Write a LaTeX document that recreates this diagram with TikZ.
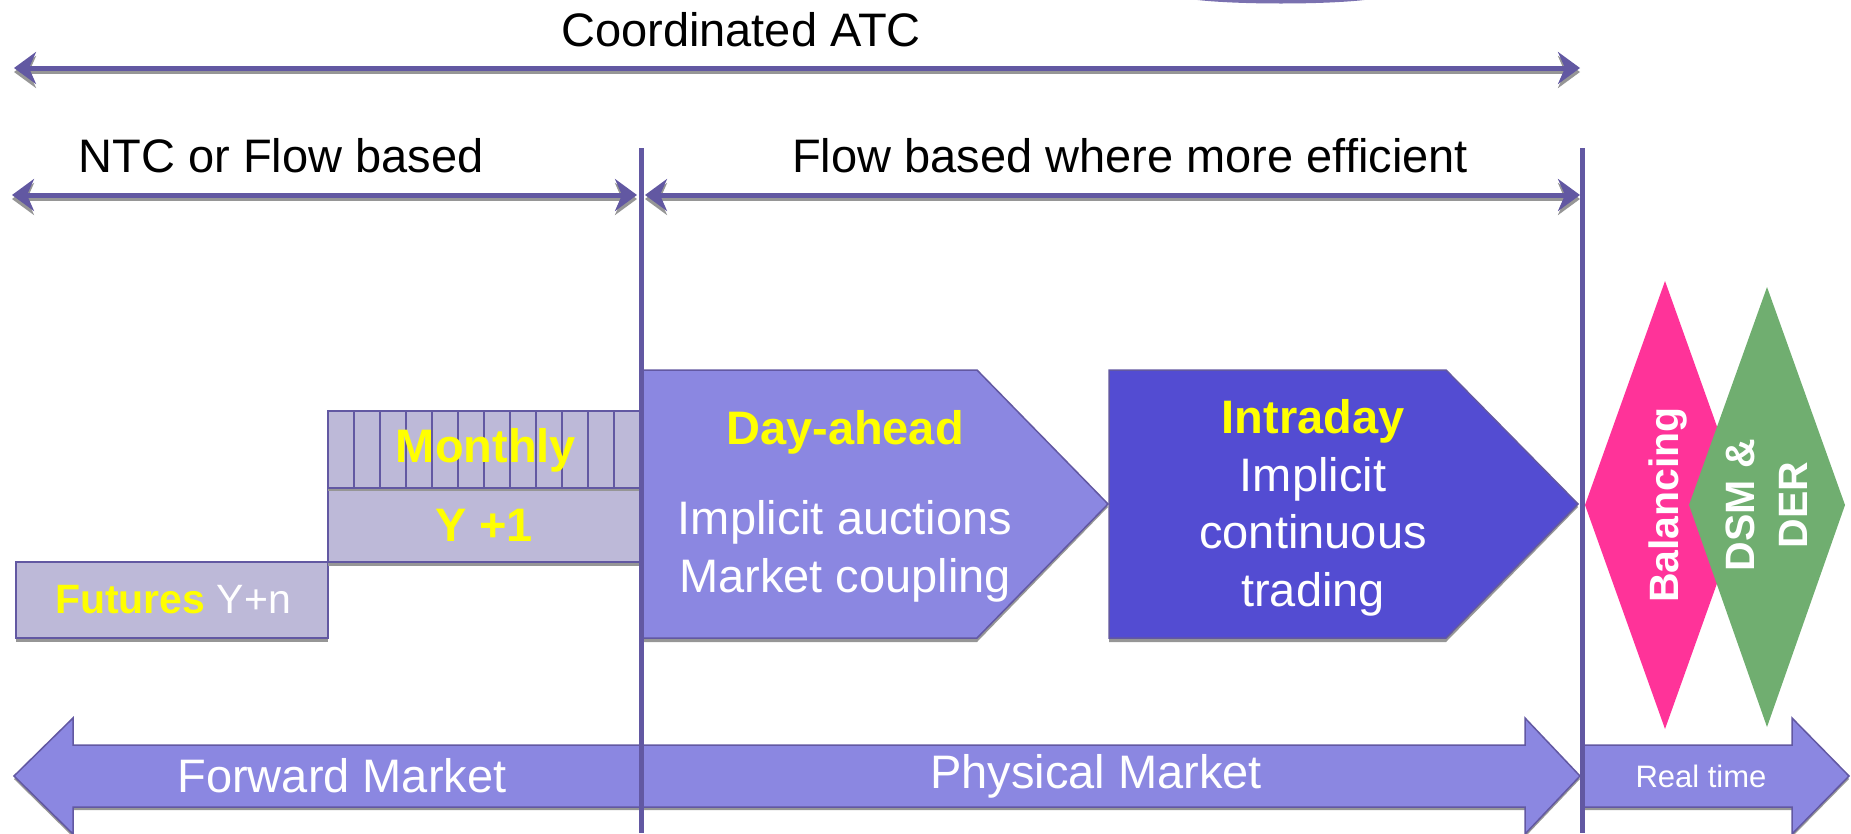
\documentclass[tikz,border=0pt]{standalone}
\usepackage{fontspec}
\setmainfont{Liberation Sans}
\usetikzlibrary{arrows.meta}
\definecolor{lp}{RGB}{98,88,162}
\definecolor{boxfill}{RGB}{189,185,216}
\definecolor{dafill}{RGB}{139,135,225}
\definecolor{idfill}{RGB}{83,76,210}
\definecolor{pinkd}{RGB}{255,51,153}
\definecolor{greend}{RGB}{112,174,112}
\definecolor{yel}{RGB}{255,255,0}
\definecolor{shad}{RGB}{150,150,150}
\tikzset{
  big/.style={font=\fontsize{47}{58}\selectfont, inner sep=0pt},
  tipstyle/.style={{Stealth[length=22pt,width=32pt,inset=7pt]}-{Stealth[length=22pt,width=32pt,inset=7pt]}},
  spanline/.style={draw=lp, line width=5pt, tipstyle},
  spanshadow/.style={draw=shad, line width=4pt, tipstyle},
  divider/.style={draw=lp, line width=5pt},
  boxstyle/.style={fill=boxfill, draw=lp, line width=2pt},
  shadowfill/.style={fill=shad},
  yb/.style={text=yel, font=\fontsize{47}{58}\selectfont\bfseries, inner sep=0pt},
  wt/.style={text=white, font=\fontsize{47}{58}\selectfont, inner sep=0pt}
}
\begin{document}
\begin{tikzpicture}[x=1pt,y=-1pt]
\useasboundingbox (0,0) rectangle (1851,833);
% artifact at top
\fill[lp!85] (1190,-1) .. controls (1230,5) and (1332,5) .. (1372,-1) -- cycle;

% coordinates for span arrows
\coordinate (a1l) at (14,68);
\coordinate (a1r) at (1580,68);
\coordinate (a2l) at (12,195);
\coordinate (a2r) at (637,195);
\coordinate (a3l) at (645,195);
\coordinate (a3r) at (1580,195);

\draw[spanshadow] ([yshift=-4pt]a1l) -- ([yshift=-4pt]a1r);
\draw[spanline] (a1l) -- (a1r);
\draw[spanshadow] ([yshift=-4pt]a2l) -- ([yshift=-4pt]a2r);
\draw[spanline] (a2l) -- (a2r);
\draw[spanshadow] ([yshift=-4pt]a3l) -- ([yshift=-4pt]a3r);
\draw[spanline] (a3l) -- (a3r);

\node[big] (atc) at (741,30) {Coordinated ATC};
\node[big] (ntc) at (281,156) {NTC or Flow based};
\node[big] (fb) at (1130,156) {Flow based where more efficient};

% Futures box
\fill[shadowfill] (16,565) rectangle (328,642);
\path[boxstyle] (16,562) rectangle (328,638);
\node[inner sep=0pt, font=\fontsize{41}{50}\selectfont] (fut) at (173,600)
  {\textcolor{yel}{\bfseries Futures} \textcolor{white}{Y+n}};

% Y+1 box
\fill[shadowfill] (328,491) rectangle (641,566);
\path[boxstyle] (328,488) rectangle (641,562);
\node[yb] (y1) at (484,525) {Y +1};

% Monthly box
\fill[shadowfill] (328,414) rectangle (641,491);
\path[boxstyle] (328,411) rectangle (641,488);
\foreach \i in {1,...,11} {
  \draw[lp, line width=2pt] (328+26*\i,411) -- (328+26*\i,488);
}
\node[yb] (mon) at (486,450) {Monthly};

% Day-ahead pentagon
\fill[shadowfill] (641,373) -- (977,373) -- (1108,507) -- (977,642) -- (641,642) -- cycle;
\path[fill=dafill, draw=lp, line width=1.5pt] (641,370) -- (977,370) -- (1108,504) -- (977,638) -- (641,638) -- cycle;
\node[yb] (da) at (845,432) {Day-ahead};
\node[wt, align=center] (dat) at (845,551) {Implicit auctions\\Market coupling};

% Intraday pentagon
\fill[shadowfill] (1109,373) -- (1446,373) -- (1578,507) -- (1446,642) -- (1109,642) -- cycle;
\path[fill=idfill, draw=lp, line width=1.5pt] (1109,370) -- (1446,370) -- (1578,504) -- (1446,638) -- (1109,638) -- cycle;
\node[wt, align=center, font=\fontsize{47}{57.5}\selectfont] (id) at (1313,508)
  {\textcolor{yel}{\bfseries Intraday}\\Implicit\\continuous\\trading};

% Diamonds
\fill[pinkd] (1665,281) -- (1745,505) -- (1665,729) -- (1585,505) -- cycle;
\fill[greend] (1767,287) -- (1845,505) -- (1767,727) -- (1689,505) -- cycle;
\node[text=white, font=\fontsize{41}{50}\selectfont\bfseries, inner sep=0pt, rotate=90] (bal) at (1668,505) {Balancing};
\node[text=white, font=\fontsize{41}{53}\selectfont\bfseries, inner sep=0pt, rotate=90, align=center] (dsm) at (1767,505) {DSM \&\\DER};

% Bottom arrows
\fill[shadowfill] (14,779) -- (73,721) -- (73,748) -- (1525,748) -- (1525,721) -- (1580,779) -- (1525,837) -- (1525,810) -- (73,810) -- (73,837) -- cycle;
\path[fill=dafill, draw=lp, line width=1.5pt] (14,776) -- (73,718) -- (73,745) -- (1525,745) -- (1525,718) -- (1580,776) -- (1525,834) -- (1525,807) -- (73,807) -- (73,834) -- cycle;
\fill[shadowfill] (1584,748) -- (1792,748) -- (1792,721) -- (1849,779) -- (1792,837) -- (1792,810) -- (1584,810) -- cycle;
\path[fill=dafill, draw=lp, line width=1.5pt] (1584,745) -- (1792,745) -- (1792,718) -- (1849,776) -- (1792,834) -- (1792,807) -- (1584,807) -- cycle;
\node[wt] (fwd) at (342,776) {Forward Market};
\node[wt] (phy) at (1096,776) {Physical Market};
\node[text=white, font=\fontsize{31}{38}\selectfont, inner sep=0pt] (rt) at (1701,776) {Real time};

% dividers
\coordinate (d1t) at (641,148);
\coordinate (d1b) at (641,833);
\coordinate (d2t) at (1582,148);
\coordinate (d2b) at (1582,833);
\draw[divider] (d1t) -- (d1b);
\draw[divider] (d2t) -- (d2b);
\end{tikzpicture}
\end{document}
